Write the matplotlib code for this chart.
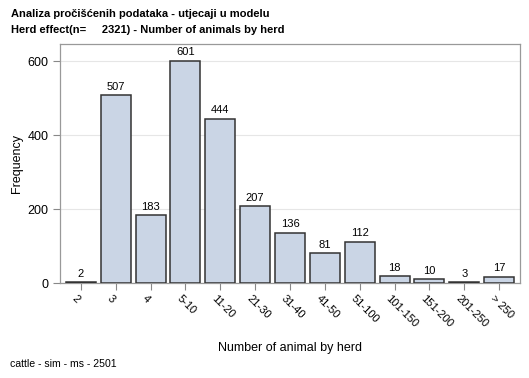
import matplotlib
matplotlib.use("Agg")
import matplotlib.pyplot as plt
import matplotlib.transforms as mtransforms
import numpy as np

plt.rcParams['font.family'] = ['Liberation Sans', 'DejaVu Sans']

categories = ["2", "3", "4", "5-10", "11-20", "21-30", "31-40", "41-50", "51-100",
              "101-150", "151-200", "201-250", "> 250"]
frequencies = [2, 507, 183, 601, 444, 207, 136, 81, 112, 18, 10, 3, 17]
yticks = [0, 200, 400, 600]

fig = plt.figure(figsize=(5.29, 3.78), dpi=100)
ax = fig.add_axes([60/529, 1-283/378, 460/529, 239/378])

x = np.arange(len(categories))
ax.bar(x, frequencies, width=0.86, color='#CAD5E5', edgecolor='#333333', linewidth=1.1, zorder=3)
for xi, v in zip(x, frequencies):
    ax.text(xi, v + 9, str(v), ha='center', va='bottom', fontsize=8, color='black', zorder=4)

ax.set_xlim(-0.6, len(categories) - 1 + 0.6)
ax.set_ylim(0, 646)
ax.set_yticks(yticks)
ax.set_yticklabels([str(t) for t in yticks], fontsize=9)
ax.set_xticks(x)
ax.set_xticklabels([''] * len(categories))

off = mtransforms.ScaledTranslation(-7/100, -14/100, fig.dpi_scale_trans)
for xi, c in zip(x, categories):
    ax.text(xi, 0, c, transform=ax.get_xaxis_transform() + off, fontsize=8,
            rotation=-45, ha='left', va='center', rotation_mode='anchor', clip_on=False)

ax.grid(axis='y', color='#E6E6E6', linewidth=0.8, zorder=0)
ax.tick_params(axis='both', colors='#888888', labelcolor='black', length=5, width=0.8)
for s in ax.spines.values():
    s.set_color('#999999')
    s.set_linewidth(0.9)

ax.set_ylabel('Frequency', fontsize=9, labelpad=3)
ax.set_xlabel('Number of animal by herd', fontsize=9, labelpad=0)
ax.xaxis.set_label_coords(0.5, 1 - (341 - 43) / 239)

fig.text(11/529, 1-14/378, 'Analiza pročišćenih podataka - utjecaji u modelu', fontsize=8, fontweight='bold', va='center', ha='left')
fig.text(11/529, 1-30/378, 'Herd effect(n=     2321) - Number of animals by herd', fontsize=8, fontweight='bold', va='center', ha='left')
fig.text(10/529, 1-364/378, 'cattle - sim - ms - 2501', fontsize=7.6, va='center', ha='left')

fig.savefig('out.png', dpi=100)
